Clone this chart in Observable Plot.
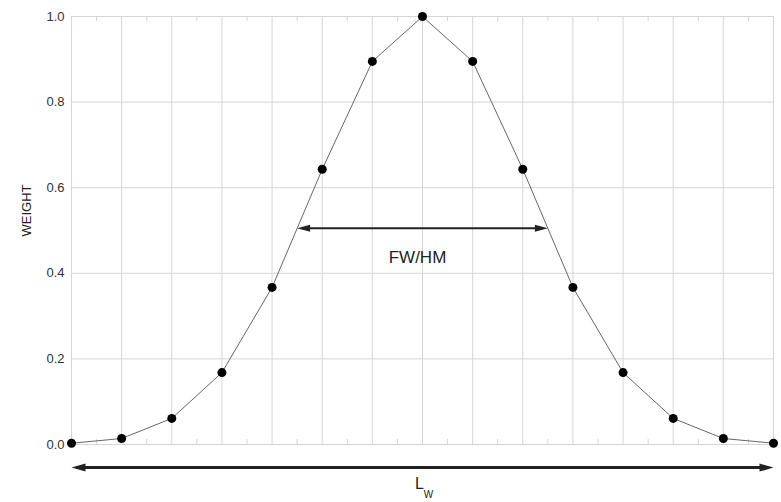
<!DOCTYPE html>
<html>
<head>
<meta charset="utf-8">
<script src="https://cdn.jsdelivr.net/npm/d3@7"></script>
<script src="https://cdn.jsdelivr.net/npm/@observablehq/plot@0.6"></script>
<style>
  html, body { margin: 0; padding: 0; background: #fff; }
  #chart svg { display: block; font-family: "Liberation Sans", Arial, Helvetica, sans-serif; }
</style>
</head>
<body>
<div id="chart"></div>
<script>
// Sample positions across the window and their weights
const positions = [-7, -6, -5, -4, -3, -2, -1, 0, 1, 2, 3, 4, 5, 6, 7];
const weights = [0.003, 0.014, 0.061, 0.168, 0.367, 0.643, 0.895, 1.0, 0.895, 0.643, 0.367, 0.168, 0.061, 0.014, 0.003];

// Axis ticks
const yTicks = [0, 0.2, 0.4, 0.6, 0.8, 1.0];
const minorX = [-6.5, -5.5, -4.5, -3.5, -2.5, -1.5, -0.5, 0.5, 1.5, 2.5, 3.5, 4.5, 5.5, 6.5];

// Annotations: full width at half maximum, and the window length
const halfMax = 0.505;
const fwhmEnds = [-2.5, 2.5];
const windowEnds = [-7, 7];
const windowY = -0.054;

const points = positions.map((x, i) => ({x, w: weights[i]}));

// Filled arrowheads with the tip on the anchor point
const headRight = (len, half) => ({draw(ctx) { ctx.moveTo(0, 0); ctx.lineTo(-len, -half); ctx.lineTo(-len, half); ctx.closePath(); }});
const headLeft = (len, half) => ({draw(ctx) { ctx.moveTo(0, 0); ctx.lineTo(len, -half); ctx.lineTo(len, half); ctx.closePath(); }});

const gridColor = "#d6d6d6";
const arrowColor = "#222";

const chart = Plot.plot({
  width: 781,
  height: 502,
  marginLeft: 71,
  marginRight: 8,
  marginTop: 16,
  marginBottom: 58,
  style: {fontFamily: "Liberation Sans, Arial, Helvetica, sans-serif", fontSize: "13px", color: "#333", background: "#fff"},
  x: {domain: [-7, 7], axis: null},
  y: {domain: [0, 1], ticks: yTicks, tickFormat: d3.format(".1f"), tickSize: 0, tickPadding: 7, label: null},
  marks: [
    Plot.gridX(positions, {stroke: gridColor, strokeOpacity: 1}),
    Plot.gridY(yTicks, {stroke: gridColor, strokeOpacity: 1}),
    Plot.ruleX(minorX, {y1: 0, y2: 0.012, stroke: gridColor}),
    Plot.ruleX(minorX, {y1: 1, y2: 0.988, stroke: gridColor}),
    Plot.line(points, {x: "x", y: "w", stroke: "#666", strokeWidth: 1}),
    Plot.dot(points, {x: "x", y: "w", r: 4.5, fill: "#000", stroke: "none"}),

    // FW/HM double arrow
    Plot.ruleY([halfMax], {x1: fwhmEnds[0] + 0.1, x2: fwhmEnds[1] - 0.1, stroke: arrowColor, strokeWidth: 2}),
    Plot.dot([fwhmEnds[1]], {x: d => d, y: halfMax, symbol: headRight(13, 3.5), fill: arrowColor, stroke: "none"}),
    Plot.dot([fwhmEnds[0]], {x: d => d, y: halfMax, symbol: headLeft(13, 3.5), fill: arrowColor, stroke: "none"}),
    Plot.text(["FW/HM"], {x: 0, y: 0.437, dx: -5, fontSize: 17, fill: "#222"}),

    // Window length double arrow below the axis
    Plot.ruleY([windowY], {x1: windowEnds[0] + 0.1, x2: windowEnds[1] - 0.1, stroke: arrowColor, strokeWidth: 3}),
    Plot.dot([windowEnds[1]], {x: d => d, y: windowY, symbol: headRight(14, 4), fill: arrowColor, stroke: "none"}),
    Plot.dot([windowEnds[0]], {x: d => d, y: windowY, symbol: headLeft(14, 4), fill: arrowColor, stroke: "none"}),
    Plot.text(["L"], {x: 0, y: 0, dx: -3, dy: 44, fontSize: 16, fill: "#222", lineAnchor: "bottom"}),
    Plot.text(["W"], {x: 0, y: 0, dx: 6, dy: 53, fontSize: 10, fill: "#222", lineAnchor: "bottom"}),

    // Vertical axis title
    Plot.text(["WEIGHT"], {frameAnchor: "left", textAnchor: "middle", dx: -45, dy: -20, rotate: -90, fontSize: 13, fill: "#222"})
  ]
});

document.getElementById("chart").appendChild(chart);
</script>
</body>
</html>
